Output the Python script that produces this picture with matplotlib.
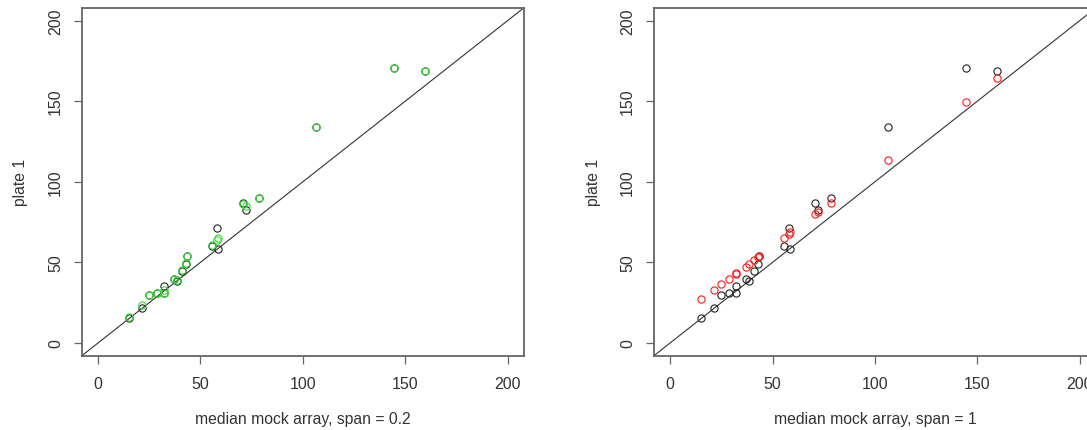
import matplotlib
matplotlib.use('Agg')
import matplotlib.pyplot as plt

# shared x: median mock array
mock = [15.2, 21.6, 25.0, 28.6, 32.0, 32.4, 36.9, 38.4, 40.8, 42.8, 43.5,
        55.5, 57.9, 58.4, 70.7, 72.3, 78.5, 106.5, 144.4, 159.6]
# raw plate 1 values (black, both panels)
plate_raw = [15.7, 21.5, 29.5, 30.8, 30.8, 35.1, 39.7, 38.2, 44.8, 49.2, 54.0,
             60.2, 71.5, 58.5, 86.9, 82.7, 89.9, 134.1, 170.5, 168.8]
# normalised, span = 0.2 (green, left panel)
plate_span02 = [15.8, 23.3, 29.6, 30.9, 31.3, 33.0, 39.6, 38.8, 45.0, 49.8, 53.7,
                61.0, 63.8, 64.8, 86.0, 85.2, 90.0, 134.1, 170.3, 168.9]
# normalised, span = 1 (red, right panel)
plate_span1 = [27.0, 32.9, 36.8, 39.7, 42.8, 43.2, 47.3, 49.0, 51.2, 53.3, 54.1,
               65.1, 67.6, 68.6, 80.0, 81.4, 86.8, 113.6, 149.4, 164.3]

ticks = [0, 50, 100, 150, 200]

plt.rcParams['font.family'] = ['Liberation Sans', 'DejaVu Sans']
plt.rcParams['font.size'] = 11.3

TXT = '#333333'
BOX = '#666666'

fig = plt.figure(figsize=(10.87, 4.31), dpi=100)
ax1 = fig.add_axes([0.0751, 0.172, 0.4071, 0.808])
ax2 = fig.add_axes([0.6014, 0.172, 0.4071, 0.808])

panels = [
    (ax1, plate_span02, '#2ee02e', 'median mock array, span = 0.2'),
    (ax2, plate_span1, '#ff1a1a', 'median mock array, span = 1'),
]

for ax, norm, col, xlabel in panels:
    ax.plot(mock, plate_raw, 'o', mfc='none', mec='#222222', ms=5.2, mew=0.8,
            linestyle='none', zorder=3)
    ax.plot(mock, norm, 'o', mfc='none', mec=col, ms=5.2, mew=0.8,
            linestyle='none', zorder=4)
    ax.axline((0, 0), slope=1, color='#333333', lw=0.8, zorder=2)

    ax.set_xlim(-8, 208)
    ax.set_ylim(-8, 208)
    ax.set_xticks(ticks)
    ax.set_yticks(ticks)
    ax.tick_params(direction='out', length=5.5, width=0.9, color=BOX,
                   labelcolor=TXT, labelsize=11.5)
    ax.tick_params(axis='x', pad=9)
    ax.tick_params(axis='y', pad=8, labelrotation=90)
    for lab in ax.get_yticklabels():
        lab.set_va('center')
    for sp in ax.spines.values():
        sp.set_color(BOX)
        sp.set_linewidth(1.3)

    ax.set_xlabel(xlabel, color=TXT, fontsize=11.3, labelpad=14.5)
    ax.set_ylabel('plate 1', color=TXT, fontsize=11.3, labelpad=14)

fig.savefig('out.png', dpi=100, facecolor='white')
